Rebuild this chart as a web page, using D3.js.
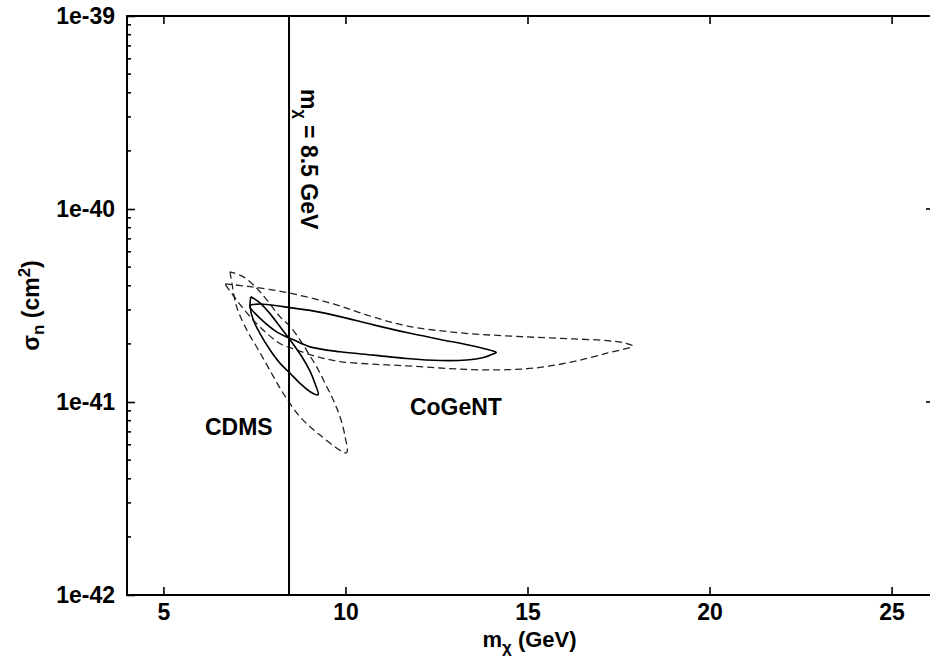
<!DOCTYPE html>
<html>
<head>
<meta charset="utf-8">
<script src="https://cdn.jsdelivr.net/npm/d3@7"></script>
<style>
  body { margin: 0; background: #fff; }
  text { font-family: "Liberation Sans", Arial, Helvetica, sans-serif; font-weight: bold; fill: #000; }
</style>
</head>
<body>
<svg id="chart"></svg>
<script>
// data: mass in GeV, cross section in units of 1e-41 cm^2
const massTicks = [5, 10, 15, 20, 25];
const sigmaTicks = [1e-42, 1e-41, 1e-40, 1e-39];
const sigmaLabels = ['1e-42', '1e-41', '1e-40', '1e-39'];
const lineMass = 8.45;

const cdmsOuter = [[6.83,4.73],[6.88,4.14],[7.01,3.12],[7.29,2.36],[7.61,1.86],[7.97,1.41],[8.29,1.11],[8.75,0.839],[9.30,0.674],[10.03,0.546],
  [9.99,0.661],[9.85,0.839],[9.67,1.02],[9.44,1.25],[9.21,1.52],[8.98,1.79],[8.75,2.10],[8.48,2.46],[8.20,2.77],[7.84,3.38],[7.52,3.96],[7.19,4.46],[6.83,4.73]];
const cdmsInner = [[7.40,3.51],[7.61,3.31],[7.88,2.94],[8.20,2.46],[8.52,2.05],[8.80,1.72],[9.03,1.44],[9.16,1.25],[9.25,1.09],
  [9.03,1.13],[8.75,1.25],[8.48,1.41],[8.20,1.59],[7.93,1.86],[7.65,2.27],[7.47,2.66],[7.38,3.12],[7.40,3.51]];
const cogentOuter = [[6.69,4.09],[7.38,3.96],[8.43,3.68],[9.67,3.22],[10.67,2.79],[11.68,2.48],[13.06,2.29],[14.43,2.20],[15.80,2.14],[17.18,2.08],[17.68,2.02],[17.89,1.95],
  [17.18,1.79],[16.26,1.62],[15.34,1.51],[14.43,1.47],[13.51,1.47],[12.60,1.50],[11.68,1.54],[10.77,1.57],[9.85,1.62],[9.21,1.72],[8.66,1.86],[8.20,2.01],[7.84,2.27],[7.38,2.77],[7.01,3.38],[6.69,4.09]];
const cogentInner = [[7.38,3.18],[7.65,3.22],[8.29,3.12],[9.21,2.94],[9.85,2.77],[10.77,2.51],[11.68,2.29],[12.60,2.11],[13.51,1.95],[14.11,1.82],[14.14,1.80],
  [14.11,1.79],[13.79,1.70],[13.33,1.65],[12.60,1.64],[11.68,1.68],[10.77,1.75],[9.85,1.82],[9.03,1.93],[8.57,2.10],[8.11,2.31],[7.65,2.72],[7.38,3.10],[7.38,3.18]];

const labels = [
  {text: 'CDMS', m: 6.14, s: 0.674},
  {text: 'CoGeNT', m: 11.77, s: 0.86}
];

// SVG parameters
const W = 930, H = 658;
const plotL = 127, plotR = 928, plotT = 16, plotB = 595;
const fs = 23;

const svg = d3.select('#chart')
  .attr('width', W)
  .attr('height', H);

const x = d3.scaleLinear().domain([4, 26]).range([plotL, plotR]);
const y = d3.scaleLog().domain([1e-42, 1e-39]).range([plotB, plotT]);

// contours
const line = d3.line()
  .x(d => x(d[0]))
  .y(d => y(d[1] * 1e-41))
  .curve(d3.curveCatmullRom.alpha(0.5));

function contour(data, dashed) {
  svg.append('path')
    .datum(data)
    .attr('d', line)
    .attr('fill', 'none')
    .attr('stroke', dashed ? '#222' : '#000')
    .attr('stroke-width', dashed ? 1.3 : 1.6)
    .attr('stroke-dasharray', dashed ? '7,4' : null);
}
contour(cdmsOuter, true);
contour(cogentOuter, true);
contour(cdmsInner, false);
contour(cogentInner, false);

// vertical line
svg.append('line')
  .attr('x1', x(lineMass)).attr('x2', x(lineMass))
  .attr('y1', plotT).attr('y2', plotB)
  .attr('stroke', '#000').attr('stroke-width', 2);

const vl = svg.append('text')
  .attr('transform', `translate(${x(lineMass) + 12},89) rotate(90)`)
  .attr('font-size', fs);
vl.append('tspan').text('m');
vl.append('tspan').attr('font-size', 16).attr('dy', 6).text('χ');
vl.append('tspan').attr('dy', -6).text(' = 8.5 GeV');

// frame
svg.append('path')
  .attr('d', `M${W},${plotT}H${plotL}V${plotB}H${W}`)
  .attr('fill', 'none')
  .attr('stroke', '#000')
  .attr('stroke-width', 2);

// axes
svg.append('g')
  .attr('transform', `translate(0,${plotB})`)
  .call(d3.axisBottom(x).tickValues(massTicks).tickSize(-8).tickPadding(9));
svg.append('g')
  .attr('transform', `translate(0,${plotT})`)
  .call(d3.axisTop(x).tickValues(massTicks).tickSize(-8).tickFormat(''));
svg.append('g')
  .attr('transform', `translate(${plotL},0)`)
  .call(d3.axisLeft(y).tickValues(sigmaTicks).tickSize(-8).tickPadding(12)
    .tickFormat((d, i) => sigmaLabels[i]));

svg.selectAll('.domain').remove();
svg.selectAll('.tick line').attr('stroke', '#000').attr('stroke-width', 1.6);
svg.selectAll('.tick text')
  .attr('font-size', fs)
  .attr('font-family', '"Liberation Sans", Arial, sans-serif')
  .attr('font-weight', 'bold')
  .attr('fill', '#000');

// minor ticks on left axis
const minor = y.ticks().filter(d => !sigmaTicks.some(t => Math.abs(t - d) / t < 1e-6));
svg.append('g').selectAll('line')
  .data(minor)
  .join('line')
  .attr('x1', plotL).attr('x2', plotL + 4)
  .attr('y1', d => y(d)).attr('y2', d => y(d))
  .attr('stroke', '#000').attr('stroke-width', 1.6);

// ticks on the right edge
svg.append('g').selectAll('line')
  .data(sigmaTicks.slice(1, 3))
  .join('line')
  .attr('x1', W - 4).attr('x2', W)
  .attr('y1', d => y(d)).attr('y2', d => y(d))
  .attr('stroke', '#000').attr('stroke-width', 1.6);

// contour labels
svg.selectAll('.lab')
  .data(labels)
  .join('text')
  .attr('class', 'lab')
  .attr('x', d => x(d.m))
  .attr('y', d => y(d.s * 1e-41))
  .attr('font-size', fs)
  .text(d => d.text);

// axis titles
const xt = svg.append('text')
  .attr('x', (plotL + plotR) / 2 + 2)
  .attr('y', 647)
  .attr('text-anchor', 'middle')
  .attr('font-size', 22);
xt.append('tspan').text('m');
xt.append('tspan').attr('font-size', 17).attr('dy', 6).text('χ');
xt.append('tspan').attr('dy', -6).text(' (GeV)');

const yt = svg.append('text')
  .attr('transform', `translate(39,${(plotT + plotB) / 2}) rotate(-90)`)
  .attr('text-anchor', 'middle')
  .attr('font-size', fs);
yt.append('tspan').text('σ');
yt.append('tspan').attr('font-size', 17).attr('dy', 5).text('n');
yt.append('tspan').attr('dy', -5).text(' (cm');
yt.append('tspan').attr('font-size', 17).attr('dy', -9).text('2');
yt.append('tspan').attr('dy', 9).text(')');
</script>
</body>
</html>
